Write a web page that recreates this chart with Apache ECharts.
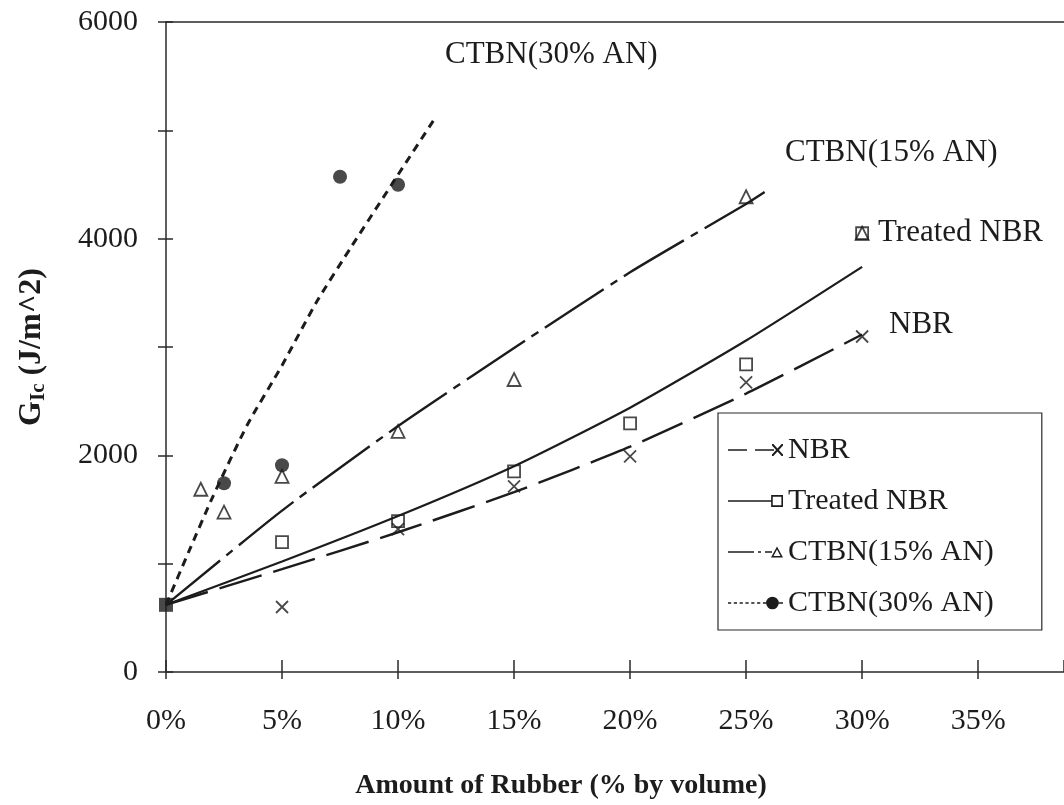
<!DOCTYPE html>
<html>
<head>
<meta charset="utf-8">
<script src="https://cdn.jsdelivr.net/npm/echarts@6/dist/echarts.min.js"></script>
<style>
  html, body { margin: 0; padding: 0; background: #ffffff; }
  #chart { width: 1064px; height: 805px; }
</style>
</head>
<body>
<div id="chart"></div>
<script>
// Fracture energy G_Ic of rubber-modified epoxy vs. rubber content (% by volume)

const xTicks = [0, 5, 10, 15, 20, 25, 30, 35];
const yTicks = [0, 2000, 4000, 6000];

// neat resin (0 % rubber), shared by all four systems
const neatPoint = [[0, 620]];

// measured points
const nbrPts     = [[5, 600], [10, 1318], [15, 1714], [20, 1991], [25, 2673], [30, 3097]];
const treatedPts = [[5, 1198], [10, 1392], [15, 1852], [20, 2295], [25, 2839], [30, 4050]];
const ctbn15Pts  = [[1.5, 1687], [2.5, 1475], [5, 1806], [10, 2221], [15, 2700], [25, 4387], [30, 4050]];
const ctbn30Pts  = [[2.5, 1742], [5, 1908], [7.5, 4571], [10, 4498]];

// fitted trend curves
const nbrFit     = [[0, 620], [5, 950], [10, 1290], [15, 1660], [20, 2080], [25, 2570], [30, 3115]];
const treatedFit = [[0, 620], [5, 1020], [10, 1440], [15, 1900], [20, 2440], [25, 3060], [30, 3740]];
const ctbn15Fit  = [[0, 620], [5, 1490], [10, 2270], [15, 2990], [20, 3690], [25, 4320], [25.8, 4430]];
const ctbn30Fit  = [[0, 620], [1, 1120], [2, 1610], [3.5, 2280], [5, 2830], [6.5, 3420], [8, 3930], [10, 4590], [11.6, 5115]];

const seriesNames = ['NBR', 'Treated NBR', 'CTBN(15% AN)', 'CTBN(30% AN)'];

const INK = '#1c1c1c';
const AXIS = '#2a2a2a';
const SERIF = '"Liberation Serif", "Times New Roman", serif';

// legend glyphs: line pattern followed by the marker
const iconNBR = 'path://M0,5.2L19,5.2L19,6.8L0,6.8Z M27,5.2L46,5.2L46,6.8L27,6.8Z ' +
  'M44,0L45.4,0L55,10.6L55,12L53.6,12L44,1.4Z M55,0L55,1.4L45.4,12L44,12L44,10.6L53.6,0Z';
const iconTreated = 'path://M4,5.2L44,5.2L44,6.8L4,6.8Z ' +
  'M44,0.5L55,0.5L55,11.5L44,11.5Z M45.5,2L45.5,10L53.5,10L53.5,2Z';
const iconCTBN15 = 'path://M0,5.2L26,5.2L26,6.8L0,6.8Z M30,5.2L33,5.2L33,6.8L30,6.8Z M37,5.2L44,5.2L44,6.8L37,6.8Z ' +
  'M49,0.5L55,11.5L43,11.5Z M49,3.4L45.5,9.9L52.5,9.9Z';
const iconCTBN30 = 'path://M4,5.2L7,5.2L7,6.8L4,6.8Z M9.5,5.2L12.5,5.2L12.5,6.8L9.5,6.8Z M15,5.2L18,5.2L18,6.8L15,6.8Z ' +
  'M20.5,5.2L23.5,5.2L23.5,6.8L20.5,6.8Z M26,5.2L29,5.2L29,6.8L26,6.8Z M31.5,5.2L34.5,5.2L34.5,6.8L31.5,6.8Z ' +
  'M37,5.2L40,5.2L40,6.8L37,6.8Z M40,6A6,6 0 1,0 52,6A6,6 0 1,0 40,6Z M52,5.2L56,5.2L56,6.8L52,6.8Z';

const crossSymbol = 'path://M0,0L10,10M10,0L0,10';

function fitLine(name, data, dash, width) {
  return {
    name: name, type: 'line', data: data, symbol: 'none', smooth: 0.2,
    lineStyle: { color: INK, width: width, type: dash, cap: 'butt' },
    itemStyle: { color: INK }, z: 2, silent: true
  };
}

function points(name, data, symbol, size, filled) {
  return {
    name: name, type: 'scatter', data: data, symbol: symbol, symbolSize: size,
    itemStyle: filled
      ? { color: INK, borderWidth: 0 }
      : { color: 'rgba(0,0,0,0)', borderColor: INK, borderWidth: 1.8 },
    z: 4, silent: true
  };
}

const chart = echarts.init(document.getElementById('chart'), null, { renderer: 'canvas' });

const option = {
  backgroundColor: '#ffffff',
  animation: false,
  grid: { left: 166, top: 22, bottom: 132, right: 0 },
  xAxis: [{
    type: 'value', min: 0, max: 38.7, interval: 5,
    axisLine: { lineStyle: { color: AXIS, width: 1.5 } },
    axisTick: { length: 7, lineStyle: { color: AXIS, width: 1.5 } },
    splitLine: { show: false },
    axisLabel: {
      margin: 34, fontSize: 30, lineHeight: 30, fontFamily: SERIF, color: INK,
      showMaxLabel: false,
      formatter: v => (xTicks.includes(v) ? Math.round(v) + '%' : '')
    },
    name: 'Amount of Rubber (% by volume)',
    nameLocation: 'middle', nameGap: 100,
    nameTextStyle: { fontSize: 28, fontWeight: 'bold', fontFamily: SERIF, color: INK, padding: [0, 108, 0, 0] }
  }, {
    type: 'value', min: 0, max: 38.7, interval: 5, position: 'bottom',
    axisLine: { show: false },
    axisTick: { inside: true, length: 12, lineStyle: { color: AXIS, width: 1.5 } },
    axisLabel: { show: false }, splitLine: { show: false }
  }, {
    type: 'value', min: 0, max: 38.7, position: 'top',
    axisLine: { show: true, lineStyle: { color: AXIS, width: 1.5 } },
    axisTick: { show: false }, axisLabel: { show: false }, splitLine: { show: false }
  }],
  yAxis: [{
    type: 'value', min: 0, max: 6000, interval: 1000,
    axisLine: { show: true, lineStyle: { color: AXIS, width: 1.5 } },
    axisTick: { show: true, length: 8, lineStyle: { color: AXIS, width: 1.5 } },
    splitLine: { show: false },
    axisLabel: {
      margin: 28, fontSize: 30, fontFamily: SERIF, color: INK,
      formatter: v => (yTicks.includes(v) ? String(v) : '')
    },
    name: '{g|G}{sub|Ic}{g| (J/m^2)}',
    nameLocation: 'middle', nameGap: 114,
    nameTextStyle: {
      rich: {
        g: { fontSize: 32, fontWeight: 'bold', fontFamily: SERIF, color: INK, lineHeight: 40 },
        sub: { fontSize: 21, fontWeight: 'bold', fontFamily: SERIF, color: INK, lineHeight: 40, padding: [14, 0, 0, 0] }
      }
    }
  }, {
    type: 'value', min: 0, max: 6000, interval: 1000, position: 'left',
    axisLine: { show: false },
    axisTick: { show: true, inside: true, length: 7, lineStyle: { color: AXIS, width: 1.5 } },
    axisLabel: { show: false }, splitLine: { show: false }
  }],
  legend: {
    orient: 'vertical', left: 718, top: 413,
    padding: [22, 48, 12, 10], itemGap: 21,
    itemWidth: 55, itemHeight: 14,
    borderColor: AXIS, borderWidth: 1.2, backgroundColor: '#ffffff',
    selectedMode: false,
    itemStyle: { color: INK, borderWidth: 0 },
    textStyle: { fontSize: 30, lineHeight: 30, fontFamily: SERIF, color: INK },
    data: [
      { name: seriesNames[0], icon: iconNBR },
      { name: seriesNames[1], icon: iconTreated },
      { name: seriesNames[2], icon: iconCTBN15 },
      { name: seriesNames[3], icon: iconCTBN30 }
    ]
  },
  graphic: [
    { type: 'text', x: 445, y: 55, silent: true,
      style: { text: 'CTBN(30% AN)', font: '31px ' + SERIF, fill: INK, align: 'left', verticalAlign: 'middle' } },
    { type: 'text', x: 785, y: 153, silent: true,
      style: { text: 'CTBN(15% AN)', font: '31px ' + SERIF, fill: INK, align: 'left', verticalAlign: 'middle' } },
    { type: 'text', x: 878, y: 233, silent: true,
      style: { text: 'Treated NBR', font: '31px ' + SERIF, fill: INK, align: 'left', verticalAlign: 'middle' } },
    { type: 'text', x: 889, y: 325, silent: true,
      style: { text: 'NBR', font: '31px ' + SERIF, fill: INK, align: 'left', verticalAlign: 'middle' } }
  ],
  series: [
    fitLine(seriesNames[0], nbrFit, [44, 12], 2.4),
    fitLine(seriesNames[1], treatedFit, 'solid', 2.2),
    fitLine(seriesNames[2], ctbn15Fit, [70, 8, 8, 8], 2.4),
    fitLine(seriesNames[3], ctbn30Fit, [8, 6], 3),
    points(seriesNames[0], nbrPts, crossSymbol, 12, false),
    points(seriesNames[1], treatedPts, 'rect', 12, false),
    points(seriesNames[2], ctbn15Pts, 'triangle', 13, false),
    points(seriesNames[3], ctbn30Pts, 'circle', 14, true),
    {
      name: 'neat', type: 'scatter', data: neatPoint, symbol: 'rect', symbolSize: 14,
      itemStyle: { color: INK }, z: 5, silent: true
    }
  ]
};

chart.setOption(option);
</script>
</body>
</html>
